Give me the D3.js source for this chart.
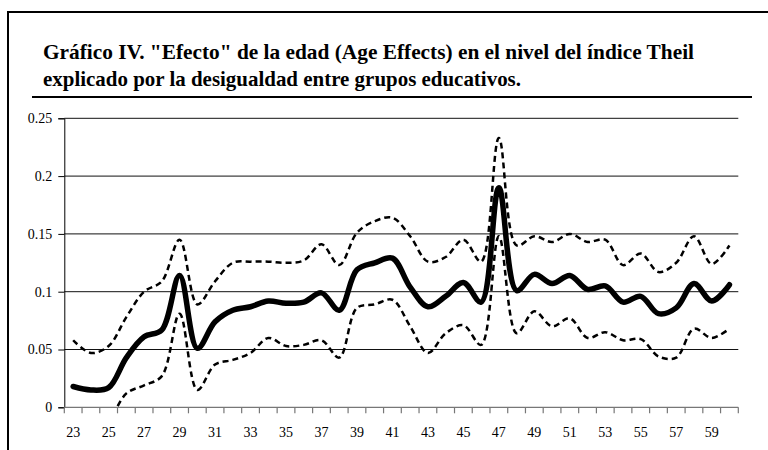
<!DOCTYPE html>
<html>
<head>
<meta charset="utf-8">
<script src="https://cdn.jsdelivr.net/npm/d3@7"></script>
<style>
  body { margin: 0; background: #fff; }
  svg text { font-family: "Times New Roman", "Liberation Serif", Tinos, "DejaVu Serif", serif !important; }
</style>
</head>
<body>
<div id="chart"></div>
<script>
let ages = [23, 24, 25, 26, 27, 28, 29, 30, 31, 32, 33, 34, 35, 36, 37, 38, 39, 40, 41,
  42, 43, 44, 45, 46, 47, 48, 49, 50, 51, 52, 53, 54, 55, 56, 57, 58, 59, 60]

let effect = [0.018, 0.015, 0.017, 0.043, 0.061, 0.067, 0.114, 0.051, 0.074, 0.084, 0.087, 0.092,
  0.090, 0.091, 0.099, 0.084, 0.119, 0.125, 0.129, 0.104, 0.087, 0.096, 0.108, 0.091, 0.190,
  0.101, 0.115, 0.107, 0.114, 0.102, 0.105, 0.091, 0.096, 0.081, 0.086, 0.107, 0.092, 0.106]

let upper = [0.058, 0.047, 0.053, 0.078, 0.100, 0.109, 0.145, 0.089, 0.109, 0.125, 0.126, 0.126,
  0.125, 0.127, 0.141, 0.123, 0.151, 0.161, 0.164, 0.148, 0.126, 0.130, 0.145, 0.126, 0.233,
  0.140, 0.148, 0.143, 0.150, 0.143, 0.145, 0.123, 0.133, 0.117, 0.125, 0.148, 0.124, 0.140]

let lower = [-0.020, -0.025, -0.012, 0.012, 0.019, 0.027, 0.081, 0.015, 0.037, 0.041, 0.047, 0.060,
  0.053, 0.054, 0.058, 0.043, 0.086, 0.089, 0.093, 0.070, 0.047, 0.064, 0.071, 0.054, 0.148,
  0.064, 0.083, 0.070, 0.077, 0.060, 0.065, 0.058, 0.059, 0.044, 0.043, 0.068, 0.060, 0.068]

let yTicks = [0, 0.05, 0.1, 0.15, 0.2, 0.25]
let xLabels = [23, 25, 27, 29, 31, 33, 35, 37, 39, 41, 43, 45, 47, 49, 51, 53, 55, 57, 59]
let titleLines = [
  "Gráfico IV. \"Efecto\" de la edad (Age Effects) en el nivel del índice Theil",
  "explicado por la desigualdad entre grupos educativos."
]

let svg = d3.select("#chart")
  .append("svg")
  .attr("width", 768)
  .attr("height", 450)

let plot = {left: 64.3, right: 738.3, top: 118.3, bottom: 407.3}

// outer frame (top + left only visible)
svg.append("path")
  .attr("d", "M8,450 L8,12 L768,12")
  .attr("fill", "none")
  .attr("stroke", "#000")
  .attr("stroke-width", 2)

// title
svg.selectAll(".title")
  .data(titleLines)
  .enter()
  .append("text")
  .attr("class", "title")
  .attr("x", 43)
  .attr("y", (d, i) => 59 + i * 27)
  .attr("textLength", (d, i) => i == 0 ? 651 : 478)
  .attr("lengthAdjust", "spacingAndGlyphs")
  .style("font-size", "21px")
  .style("font-weight", "bold")
  .text(d => d)

svg.append("line")
  .attr("x1", 32)
  .attr("x2", 752)
  .attr("y1", 97)
  .attr("y2", 97)
  .attr("stroke", "#000")
  .attr("stroke-width", 2)

let x = d3.scaleBand()
  .domain(ages)
  .range([plot.left, plot.right])

let y = d3.scaleLinear()
  .domain([0, 0.25])
  .range([plot.bottom, plot.top])

// gridlines
svg.selectAll(".grid")
  .data(yTicks.filter(d => d > 0))
  .enter()
  .append("line")
  .attr("x1", plot.left)
  .attr("x2", plot.right)
  .attr("y1", d => y(d))
  .attr("y2", d => y(d))
  .attr("stroke", "#111")
  .attr("stroke-width", 1)

// y axis
let yAxis = svg.append("g")
  .attr("transform", "translate(" + plot.left + ",0)")
  .call(d3.axisLeft(y)
    .tickValues(yTicks)
    .tickSize(6)
    .tickPadding(6)
    .tickFormat(d => d == 0 ? "0" : String(d)))
yAxis.attr("font-family", null)
yAxis.select(".domain").attr("stroke", "#000")
yAxis.selectAll("line").attr("stroke", "#000")
yAxis.selectAll("text")
  .attr("fill", "#000")
  .style("font-size", "14px")

// x axis: ticks at category boundaries, labels every other category
let xAxis = svg.append("g")
  .attr("transform", "translate(0," + plot.bottom + ")")
xAxis.append("line")
  .attr("x1", plot.left)
  .attr("x2", plot.right)
  .attr("stroke", "#777")
  .attr("stroke-width", 1.2)
xAxis.selectAll(".tick")
  .data(ages.concat([null]))
  .enter()
  .append("line")
  .attr("x1", (d, i) => plot.left + i * x.step())
  .attr("x2", (d, i) => plot.left + i * x.step())
  .attr("y1", 0)
  .attr("y2", 6)
  .attr("stroke", "#777")
  .attr("stroke-width", 1.2)
xAxis.selectAll(".lbl")
  .data(xLabels)
  .enter()
  .append("text")
  .attr("x", d => x(d) + x.bandwidth() / 2)
  .attr("y", 30)
  .style("font-size", "14px")
  .style("text-anchor", "middle")
  .text(d => d)

svg.append("clipPath")
  .attr("id", "clip")
  .append("rect")
  .attr("x", plot.left)
  .attr("y", plot.top - 10)
  .attr("width", plot.right - plot.left)
  .attr("height", plot.bottom - plot.top + 10)

let line = d3.line()
  .x((d, i) => x(ages[i]) + x.bandwidth() / 2)
  .y(d => y(d))
  .curve(d3.curveCatmullRom.alpha(0.5))

let lines = svg.append("g").attr("clip-path", "url(#clip)")

// confidence bands
lines.selectAll(".band")
  .data([upper, lower])
  .enter()
  .append("path")
  .attr("d", line)
  .attr("fill", "none")
  .attr("stroke", "#000")
  .attr("stroke-width", 2.5)
  .attr("stroke-dasharray", "6,4")

// main estimate
lines.append("path")
  .attr("d", line(effect))
  .attr("fill", "none")
  .attr("stroke", "#000")
  .attr("stroke-width", 5.5)
  .attr("stroke-linejoin", "round")
  .attr("stroke-linecap", "round")
</script>
</body>
</html>
